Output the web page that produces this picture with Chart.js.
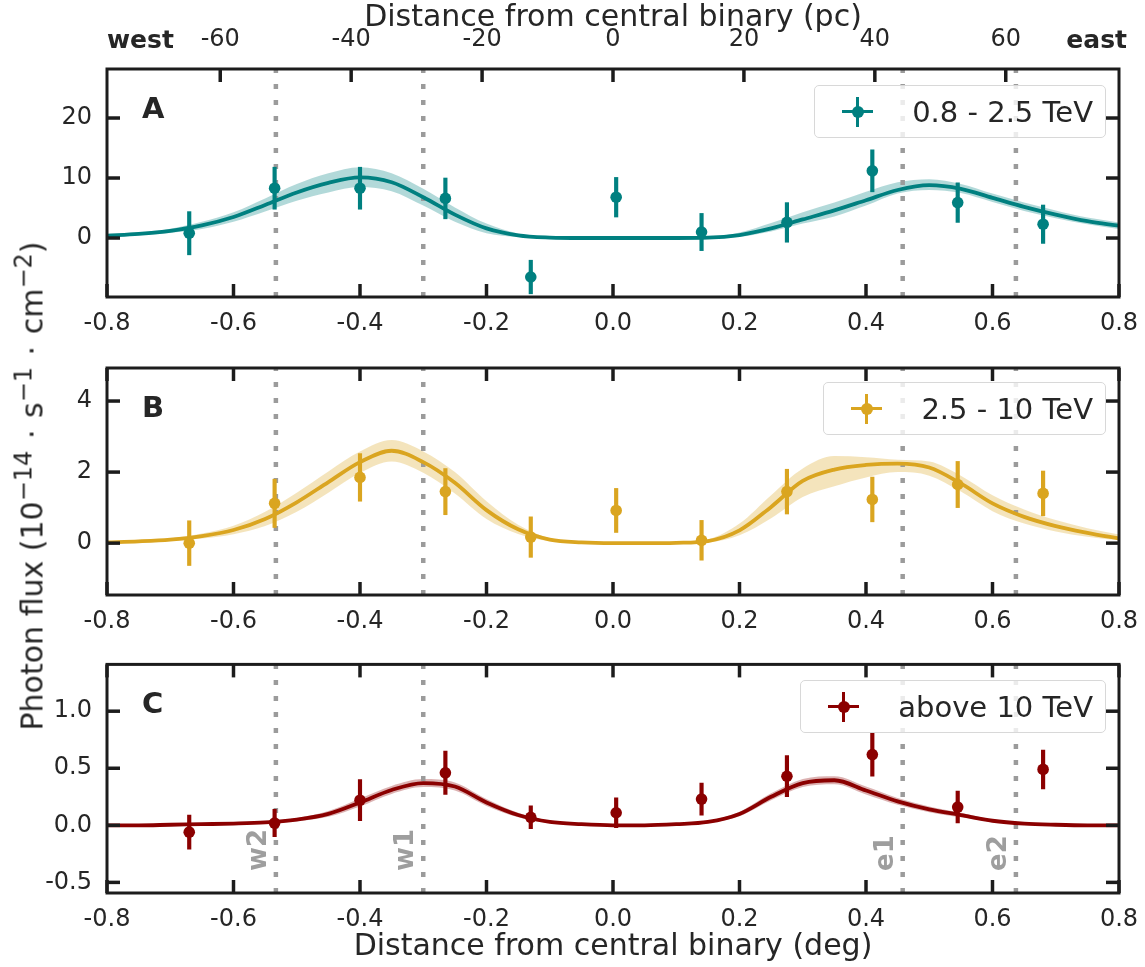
<!DOCTYPE html>
<html>
<head>
<meta charset="utf-8">
<script src="https://cdn.jsdelivr.net/npm/chart.js@4.4.1/dist/chart.umd.min.js"></script>
<style>
  html, body { margin: 0; padding: 0; background: #fff; }
  #wrap { position: relative; width: 1145px; height: 967px; overflow: hidden;
          font-family: 'DejaVu Sans', sans-serif; color: #262626; }
  canvas { position: absolute; left: 0; }
  #ytitle { position: absolute; left: 32px; top: 486px; white-space: nowrap; font-size: 30px;
            transform: translate(-50%, -50%) rotate(-90deg); }
  #ytitle sup { font-size: 0.8em; line-height: 0; }
  #ytitle .op { padding: 0 2px; }
  .legend { position: absolute; right: 39px; height: 53px; box-sizing: border-box;
            border: 1.5px solid #d8d8d8; border-radius: 5px; background: rgba(255,255,255,0.8);
            display: flex; align-items: center; padding: 0 12px 0 27px; gap: 39px; font-size: 29px; }
  .mk { position: relative; width: 31px; height: 30px; flex: none; }
  .mk i { position: absolute; display: block; background: currentColor; }
  .mk .h { left: 0; top: 13.5px; width: 31px; height: 3px; }
  .mk .v { left: 14px; top: 0; width: 3px; height: 30px; }
  .mk .d { left: 9.5px; top: 9px; width: 12px; height: 12px; border-radius: 50%; }
</style>
</head>
<body>
<div id="wrap">
  <canvas id="panelA" width="1145" height="340" style="top:0"></canvas>
  <canvas id="panelB" width="1145" height="300" style="top:335px"></canvas>
  <canvas id="panelC" width="1145" height="332" style="top:635px"></canvas>
  <div id="ytitle">Photon flux (10<sup>−14</sup> <span class="op">·</span> s<sup>−1</sup> <span class="op">·</span> cm<sup>−2</sup>)</div>
  <div class="legend" style="top:85px"><span class="mk" style="color:#008080"><i class="h"></i><i class="v"></i><i class="d"></i></span><span>0.8 - 2.5 TeV</span></div>
  <div class="legend" style="top:382px"><span class="mk" style="color:#daa520"><i class="h"></i><i class="v"></i><i class="d"></i></span><span>2.5 - 10 TeV</span></div>
  <div class="legend" style="top:680px"><span class="mk" style="color:#8b0000"><i class="h"></i><i class="v"></i><i class="d"></i></span><span>above 10 TeV</span></div>
</div>
<script>
// axes
const xTicks = [-0.8, -0.6, -0.4, -0.2, 0, 0.2, 0.4, 0.6, 0.8];
const pcTicks = [-60, -40, -20, 0, 20, 40, 60];
const pcRange = [-77.3, 77.3];
const endLabels = ['west', 'east'];
const regionNames = ['w2', 'w1', 'e1', 'e2'];
const regionPos = [-0.533, -0.30, 0.458, 0.637];

// measured points (same bins in all panels)
const pointX = [-0.67, -0.535, -0.40, -0.265, -0.13, 0.005, 0.14, 0.275, 0.41, 0.545, 0.68];
const fluxA = [0.8, 8.3, 8.3, 6.6, -6.5, 6.8, 1.0, 2.6, 11.2, 5.9, 2.3];
const errA = [3.6, 3.5, 3.5, 3.4, 2.8, 3.3, 3.1, 3.3, 3.5, 3.3, 3.2];
const fluxB = [0.0, 1.12, 1.85, 1.45, 0.17, 0.92, 0.08, 1.45, 1.23, 1.65, 1.4];
const errB = [0.63, 0.68, 0.67, 0.65, 0.57, 0.62, 0.56, 0.63, 0.63, 0.65, 0.63];
const fluxC = [-0.06, 0.02, 0.22, 0.46, 0.07, 0.11, 0.23, 0.43, 0.62, 0.16, 0.49];
const errC = [0.15, 0.12, 0.18, 0.19, 0.10, 0.13, 0.14, 0.18, 0.19, 0.14, 0.17];

const modelX = [-0.8, -0.75, -0.7, -0.65, -0.6, -0.55, -0.5, -0.45, -0.4, -0.35, -0.3, -0.25, -0.2, -0.15, -0.1, -0.05,
  0, 0.05, 0.1, 0.15, 0.2, 0.25, 0.3, 0.35, 0.4, 0.45, 0.5, 0.55, 0.6, 0.65, 0.7, 0.75, 0.8];
const modelA = [0.4, 0.7, 1.2, 2.1, 3.5, 5.5, 7.6, 9.2, 10.1, 9.3, 6.8, 3.9, 1.6, 0.45, 0.08, 0,
  0, 0, 0, 0.05, 0.5, 1.6, 3.1, 4.6, 6.3, 8.0, 8.8, 8.2, 6.7, 5.2, 3.9, 2.8, 2.05];
const bandLoA = [0.2, 0.45, 0.85, 1.5, 2.7, 4.4, 6.2, 7.6, 8.5, 7.8, 5.4, 2.7, 0.8, 0.15, 0.02, 0,
  0, 0, 0, 0, 0.2, 1.1, 2.4, 3.6, 5.4, 7.4, 8.0, 7.5, 6.0, 4.5, 3.3, 2.3, 1.5];
const bandHiA = [0.6, 0.95, 1.55, 2.7, 4.3, 6.6, 9.0, 10.8, 11.8, 10.8, 8.2, 5.1, 2.4, 0.75, 0.15, 0,
  0, 0, 0, 0.1, 0.9, 2.5, 4.3, 5.9, 7.7, 9.3, 9.8, 9.0, 7.4, 5.9, 4.6, 3.4, 2.6];
const modelB = [0.02, 0.05, 0.1, 0.2, 0.37, 0.68, 1.15, 1.72, 2.28, 2.6, 2.28, 1.7, 0.93, 0.39, 0.1, 0.02,
  0, 0, 0.01, 0.06, 0.36, 1.02, 1.75, 2.07, 2.2, 2.24, 2.13, 1.68, 1.12, 0.74, 0.48, 0.29, 0.13];
const bandLoB = [0.01, 0.03, 0.06, 0.13, 0.25, 0.48, 0.88, 1.42, 1.98, 2.3, 1.98, 1.4, 0.68, 0.26, 0.06, 0.01,
  0, 0, 0, 0.02, 0.22, 0.7, 1.3, 1.6, 1.85, 2.0, 1.9, 1.45, 0.9, 0.55, 0.33, 0.18, 0.08];
const bandHiB = [0.03, 0.07, 0.14, 0.27, 0.49, 0.88, 1.42, 2.02, 2.58, 2.9, 2.58, 2.0, 1.18, 0.52, 0.14, 0.03,
  0, 0, 0.02, 0.1, 0.55, 1.35, 2.1, 2.45, 2.42, 2.35, 2.3, 1.9, 1.35, 0.95, 0.65, 0.42, 0.24];
const modelC = [0, 0, 0.005, 0.01, 0.015, 0.025, 0.05, 0.1, 0.2, 0.31, 0.37, 0.34, 0.2, 0.09, 0.03, 0.01,
  0, 0, 0.01, 0.03, 0.1, 0.25, 0.37, 0.395, 0.305, 0.21, 0.14, 0.09, 0.04, 0.015, 0.005, 0, 0];
const bandLoC = [0, 0, 0.005, 0.007, 0.01, 0.015, 0.035, 0.075, 0.165, 0.275, 0.335, 0.305, 0.17, 0.07, 0.02, 0.005,
  0, 0, 0.005, 0.02, 0.08, 0.22, 0.335, 0.36, 0.27, 0.18, 0.115, 0.07, 0.028, 0.009, 0.003, 0, 0];
const bandHiC = [0, 0, 0.005, 0.013, 0.02, 0.035, 0.065, 0.125, 0.235, 0.345, 0.405, 0.375, 0.23, 0.11, 0.04, 0.015,
  0, 0, 0.015, 0.04, 0.12, 0.28, 0.405, 0.43, 0.34, 0.24, 0.165, 0.11, 0.052, 0.021, 0.007, 0, 0];

const yTicksA = [0, 10, 20];
const yTicksB = [0, 2, 4];
const yTicksC = [-0.5, 0, 0.5, 1.0];

const FONT = 'DejaVu Sans';
const TEXT = '#262626';
const FRAME = '#1c1c1c';
const TICK = 13;

Chart.defaults.font.family = FONT;
Chart.defaults.color = TEXT;

const panelDecor = {
  id: 'panelDecor',
  afterDraw(chart, args, o) {
    const { ctx, chartArea: a, scales } = chart;
    const sx = scales.x, sy = scales.y, top = scales.x2;
    const seg = (x1, y1, x2, y2) => { ctx.beginPath(); ctx.moveTo(x1, y1); ctx.lineTo(x2, y2); ctx.stroke(); };
    ctx.save();
    ctx.strokeStyle = FRAME;
    ctx.lineWidth = 3.5;
    sx.ticks.forEach(t => {
      const px = sx.getPixelForValue(t.value);
      seg(px, a.bottom, px, a.bottom - TICK);
      if (!top) seg(px, a.top, px, a.top + TICK);
    });
    if (top) {
      top.ticks.forEach(t => {
        const px = top.getPixelForValue(t.value);
        seg(px, a.top, px, a.top + TICK);
      });
    }
    sy.ticks.forEach(t => {
      const py = sy.getPixelForValue(t.value);
      seg(a.left, py, a.left + TICK, py);
      seg(a.right, py, a.right - TICK, py);
    });
    ctx.lineWidth = 3;
    ctx.strokeRect(a.left, a.top, a.right - a.left, a.bottom - a.top);

    ctx.fillStyle = TEXT;
    ctx.textBaseline = 'alphabetic';
    ctx.textAlign = 'left';
    ctx.font = `bold 29px "${FONT}"`;
    ctx.fillText(o.letter, a.left + 35, a.top + 49);

    if (o.ends) {
      ctx.font = `bold 25px "${FONT}"`;
      ctx.fillText(endLabels[0], a.left, 48);
      ctx.textAlign = 'right';
      ctx.fillText(endLabels[1], a.right + 8, 48);
    }
    if (o.regions) {
      ctx.font = `bold 26px "${FONT}"`;
      ctx.fillStyle = '#9e9e9e';
      ctx.textAlign = 'left';
      regionPos.forEach((x, i) => {
        ctx.save();
        ctx.translate(sx.getPixelForValue(x) - 10, a.bottom - 22);
        ctx.rotate(-Math.PI / 2);
        ctx.fillText(regionNames[i], 0, 0);
        ctx.restore();
      });
    }
    ctx.restore();
  }
};

function makePanel(id, p) {
  const datasets = [
    { type: 'line', data: modelX.map((x, i) => ({ x, y: p.lo[i] })), borderWidth: 0, pointRadius: 0,
      fill: false, cubicInterpolationMode: 'monotone', order: 6 },
    { type: 'line', data: modelX.map((x, i) => ({ x, y: p.hi[i] })), borderWidth: 0, pointRadius: 0,
      fill: '-1', backgroundColor: p.band, cubicInterpolationMode: 'monotone', order: 6 },
    ...regionPos.map(x => ({
      type: 'line', data: [{ x, y: p.yRange[0] }, { x, y: p.yRange[1] }], borderColor: '#9b9b9b',
      borderWidth: 4.5, borderDash: [5, 11], borderCapStyle: 'butt', pointRadius: 0, fill: false, order: 5
    })),
    { type: 'line', data: modelX.map((x, i) => ({ x, y: p.model[i] })), borderColor: p.color, borderWidth: 3.8,
      pointRadius: 0, fill: false, cubicInterpolationMode: 'monotone', order: 4 },
    { type: 'bar', data: pointX.map((x, i) => ({ x, y: [p.flux[i] - p.err[i], p.flux[i] + p.err[i]] })),
      backgroundColor: p.color, borderWidth: 0, barThickness: 3.5, order: 3 },
    { type: 'line', data: pointX.map((x, i) => ({ x, y: p.flux[i] })), showLine: false, pointRadius: 5.8,
      pointBackgroundColor: p.color, pointBorderWidth: 0, fill: false, order: 2 }
  ];

  // keep the plot box fixed: no extra room for overhanging end labels
  const fitX = h => s => { s.height = h; s.paddingLeft = 0; s.paddingRight = 0; };

  const scales = {
    x: {
      type: 'linear', position: 'bottom', min: -0.8, max: 0.8, offset: false,
      afterBuildTicks: s => { s.ticks = xTicks.map(v => ({ value: v })); },
      afterFit: fitX(p.xHeight),
      grid: { display: false, drawTicks: false, offset: false },
      border: { display: false },
      ticks: { autoSkip: false, maxRotation: 0, padding: 12, font: { size: 24 }, color: TEXT,
               callback: v => v.toFixed(1) },
      title: p.xTitle
        ? { display: true, text: p.xTitle, font: { size: 30 }, color: TEXT, padding: { top: 0, bottom: 2 } }
        : { display: false }
    },
    y: {
      type: 'linear', position: 'left', min: p.yRange[0], max: p.yRange[1],
      afterBuildTicks: s => { s.ticks = p.yTicks.map(v => ({ value: v })); },
      afterFit: s => { s.width = 107; },
      grid: { display: false, drawTicks: false },
      border: { display: false },
      ticks: { padding: 15, font: { size: 24 }, color: TEXT, callback: v => v.toFixed(p.yDecimals) }
    }
  };
  if (p.topAxis) {
    scales.x2 = {
      type: 'linear', position: 'top', min: pcRange[0], max: pcRange[1], offset: false,
      afterBuildTicks: s => { s.ticks = pcTicks.map(v => ({ value: v })); },
      afterFit: fitX(69),
      grid: { display: false, drawTicks: false },
      border: { display: false },
      ticks: { autoSkip: false, maxRotation: 0, padding: 15, font: { size: 24 }, color: TEXT,
               callback: v => String(v) },
      title: { display: true, text: 'Distance from central binary (pc)', font: { size: 30 }, color: TEXT,
               padding: { top: 0, bottom: 0 } }
    };
  }

  return new Chart(document.getElementById(id), {
    type: 'line',
    data: { datasets },
    options: {
      responsive: false,
      devicePixelRatio: 1,
      animation: false,
      layout: { padding: { top: p.padTop, right: 26, left: 0, bottom: 0 } },
      plugins: {
        legend: { display: false },
        tooltip: { enabled: false },
        panelDecor: { letter: p.letter, ends: !!p.topAxis, regions: !!p.regions }
      },
      scales
    },
    plugins: [panelDecor]
  });
}

makePanel('panelA', {
  letter: 'A', color: '#008080', band: 'rgba(0,128,128,0.3)',
  flux: fluxA, err: errA, model: modelA, lo: bandLoA, hi: bandHiA,
  yRange: [-9.83, 28.17], yTicks: yTicksA, yDecimals: 0,
  topAxis: true, padTop: 0, xHeight: 43
});
makePanel('panelB', {
  letter: 'B', color: '#daa520', band: 'rgba(218,165,32,0.3)',
  flux: fluxB, err: errB, model: modelB, lo: bandLoB, hi: bandHiB,
  yRange: [-1.46, 4.93], yTicks: yTicksB, yDecimals: 0,
  padTop: 33, xHeight: 40
});
makePanel('panelC', {
  letter: 'C', color: '#8b0000', band: 'rgba(139,0,0,0.3)',
  flux: fluxC, err: errC, model: modelC, lo: bandLoC, hi: bandHiC,
  yRange: [-0.593, 1.41], yTicks: yTicksC, yDecimals: 1,
  regions: true, padTop: 28, xHeight: 74, xTitle: 'Distance from central binary (deg)'
});
</script>
</body>
</html>
